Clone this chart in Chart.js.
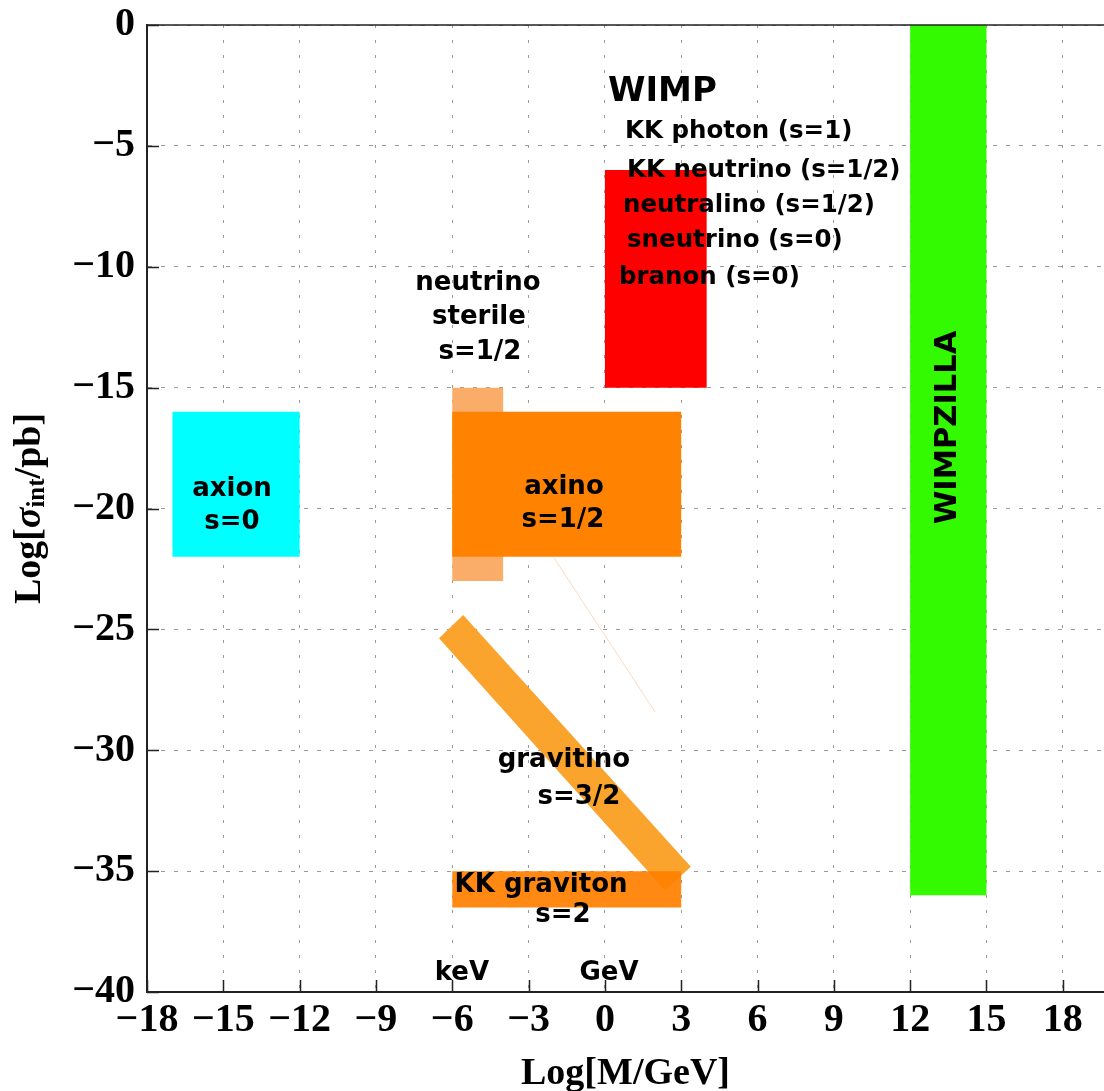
<!DOCTYPE html>
<html>
<head>
<meta charset="utf-8">
<script src="https://cdn.jsdelivr.net/npm/chart.js@4/dist/chart.umd.min.js"></script>
<style>
  html, body { margin: 0; padding: 0; background: #fff; overflow: hidden; }
</style>
</head>
<body>
<canvas id="darkMatterChart" width="1104" height="1091"></canvas>
<script>
// axis ticks
const xTicks = [-18, -15, -12, -9, -6, -3, 0, 3, 6, 9, 12, 15, 18];
const yTicks = [0, -5, -10, -15, -20, -25, -30, -35, -40];

// boxes: [xmin, xmax, ymin, ymax]  (Log M/GeV, Log sigma/pb)
const axionBox = [-17, -12, -22, -16];
const sterileBox = [-6, -4, -23, -15];
const axinoBox = [-6, 3, -22, -16];
const wimpBox = [0, 4, -15, -6];
const wimpzillaBox = [12, 15, -36, 0];
const kkGravitonBox = [-6, 3, -36.5, -35];

// gravitino band corners
const gravitinoX = [-6.52, -5.57, 3.38, 2.36];
const gravitinoY = [-25.37, -24.41, -34.82, -35.79];

// faint line below axino
const faintX = [-1.99, 1.97];
const faintY = [-22.06, -28.41];

// text labels
const labelTexts = ['WIMP', 'KK photon (s=1)', 'KK neutrino (s=1/2)', 'neutralino (s=1/2)', 'sneutrino (s=0)', 'branon (s=0)',
    'neutrino', 'sterile', 's=1/2', 'axion', 's=0', 'axino', 's=1/2', 'gravitino', 's=3/2',
    'KK graviton', 's=2', 'keV', 'GeV', 'WIMPZILLA'];
const labelX = [0.12, 0.79, 0.87, 0.71, 0.87, 0.55,
    -4.99, -4.95, -4.91, -14.66, -14.66, -1.61, -1.65, -1.61, -1.02,
    -2.51, -1.65, -5.62, 0.16, 13.49];
const labelY = [-2.79, -4.43, -6.04, -7.49, -8.90, -10.47,
    -10.67, -12.10, -13.55, -19.20, -20.56, -19.11, -20.48, -30.41, -31.94,
    -35.58, -36.82, -39.22, -39.22, -16.65];

function boxPoints(b) {
    return [
        {x: b[0], y: b[2]}, {x: b[1], y: b[2]}, {x: b[1], y: b[3]}, {x: b[0], y: b[3]}, {x: b[0], y: b[2]}
    ];
}

function polyPoints(xs, ys) {
    var pts = xs.map((x, i) => ({x: x, y: ys[i]}));
    pts.push(pts[0]);
    return pts;
}

function shape(points, color) {
    return {
        data: points,
        backgroundColor: color,
        borderColor: color,
        borderWidth: 0,
        fill: 'shape',
        showLine: true,
        pointRadius: 0,
        tension: 0
    };
}

// first dataset ends up on top
var datasets = [
    shape(boxPoints(kkGravitonBox), 'rgba(255,128,0,0.93)'),
    shape(polyPoints(gravitinoX, gravitinoY), 'rgb(250,163,45)'),
    shape(boxPoints(axinoBox), 'rgb(255,130,0)'),
    shape(boxPoints(sterileBox), 'rgb(250,172,105)'),
    shape(boxPoints(axionBox), '#00ffff'),
    shape(boxPoints(wimpBox), '#ff0000'),
    shape(boxPoints(wimpzillaBox), 'rgb(51,250,0)'),
    {
        data: polyPoints(faintX, faintY).slice(0, 2),
        borderColor: 'rgba(240,190,150,0.55)',
        borderWidth: 1,
        fill: false,
        pointRadius: 0,
        tension: 0
    }
];

const labelFont = '"DejaVu Sans", sans-serif';
const serif = '"Liberation Serif", "Times New Roman", serif';

const decorPlugin = {
    id: 'decor',
    afterDatasetsDraw(chart) {
        var ctx = chart.ctx, xs = chart.scales.x, ys = chart.scales.y;
        ctx.save();
        ctx.fillStyle = '#000';
        labelTexts.forEach((t, i) => {
            var px = xs.getPixelForValue(labelX[i]);
            var py = ys.getPixelForValue(labelY[i]);
            var size = 26, align = 'center';
            if (i === 0) size = 34;
            if (i >= 0 && i <= 5) align = 'left';
            if (i >= 1 && i <= 5) size = 24.5;
            ctx.font = 'bold ' + size + 'px ' + labelFont;
            ctx.textAlign = align;
            ctx.textBaseline = 'middle';
            if (t === 'WIMPZILLA') {
                ctx.save();
                ctx.translate(px, py);
                ctx.rotate(-Math.PI / 2);
                ctx.font = 'bold 30.5px ' + labelFont;
                ctx.fillText(t, 0, 0);
                ctx.restore();
            } else {
                ctx.fillText(t, px, py);
            }
        });
        ctx.restore();
    },
    afterDraw(chart) {
        var ctx = chart.ctx, a = chart.chartArea, xs = chart.scales.x, ys = chart.scales.y;
        ctx.save();
        ctx.strokeStyle = '#222';
        ctx.lineWidth = 1.5;
        // top frame
        ctx.beginPath();
        ctx.moveTo(a.left, a.top);
        ctx.lineTo(a.right, a.top);
        ctx.stroke();
        // inward ticks
        ctx.beginPath();
        xTicks.forEach(v => {
            var px = Math.round(xs.getPixelForValue(v)) + 0.5;
            ctx.moveTo(px, a.bottom);
            ctx.lineTo(px, a.bottom - 12);
        });
        yTicks.forEach(v => {
            var py = Math.round(ys.getPixelForValue(v)) + 0.5;
            ctx.moveTo(a.left, py);
            ctx.lineTo(a.left + 12, py);
        });
        ctx.stroke();

        // y title: Log[sigma_int/pb]
        var parts = [
            {t: 'Log[', f: 'bold 38px ' + serif, dy: 0},
            {t: 'σ', f: 'italic bold 38px ' + serif, dy: 0},
            {t: 'int', f: 'bold 25px ' + serif, dy: 8},
            {t: '/pb]', f: 'bold 38px ' + serif, dy: 0}
        ];
        var total = 0;
        parts.forEach(p => { ctx.font = p.f; p.w = ctx.measureText(p.t).width; total += p.w; });
        ctx.translate(30, (a.top + a.bottom) / 2);
        ctx.rotate(-Math.PI / 2);
        ctx.fillStyle = '#000';
        ctx.textBaseline = 'middle';
        ctx.textAlign = 'left';
        var cx = -total / 2;
        parts.forEach(p => {
            ctx.font = p.f;
            ctx.fillText(p.t, cx, p.dy);
            cx += p.w;
        });
        ctx.restore();
    }
};

var ctx = document.getElementById('darkMatterChart').getContext('2d');
new Chart(ctx, {
    type: 'line',
    data: { datasets: datasets },
    options: {
        responsive: false,
        animation: false,
        layout: { padding: { top: 25, left: 0, right: 0, bottom: 0 } },
        plugins: {
            legend: { display: false },
            tooltip: { enabled: false }
        },
        scales: {
            x: {
                type: 'linear',
                min: -18,
                max: 19.62,
                afterBuildTicks: (axis) => { axis.ticks = xTicks.map(v => ({value: v})); },
                afterFit: (axis) => { axis.height = 99; axis.paddingLeft = 0; axis.paddingRight = 0; },
                ticks: {
                    color: '#000',
                    padding: 5,
                    maxRotation: 0,
                    autoSkip: false,
                    font: { family: serif, size: 40, weight: 'bold' },
                    callback: (v) => String(v).replace('-', '\u2212')
                },
                grid: { color: '#9a9a9a', lineWidth: 1, drawTicks: false },
                border: { display: true, color: '#222', width: 2, dash: [3, 12] },
                title: {
                    display: true,
                    text: 'Log[M/GeV]',
                    color: '#000',
                    font: { family: serif, size: 38, weight: 'bold' },
                    padding: { top: 0, bottom: -6 }
                }
            },
            y: {
                type: 'linear',
                min: -40,
                max: 0,
                afterBuildTicks: (axis) => { axis.ticks = yTicks.map(v => ({value: v})); },
                afterFit: (axis) => { axis.width = 147; axis.paddingTop = 0; axis.paddingBottom = 0; },
                ticks: {
                    color: '#000',
                    padding: 12,
                    font: { family: serif, size: 40, weight: 'bold' },
                    callback: (v) => String(v).replace('-', '\u2212')
                },
                grid: { color: '#9a9a9a', lineWidth: 1, drawTicks: false },
                border: { display: true, color: '#222', width: 2, dash: [4, 9] }
            }
        }
    },
    plugins: [decorPlugin]
});
</script>
</body>
</html>
